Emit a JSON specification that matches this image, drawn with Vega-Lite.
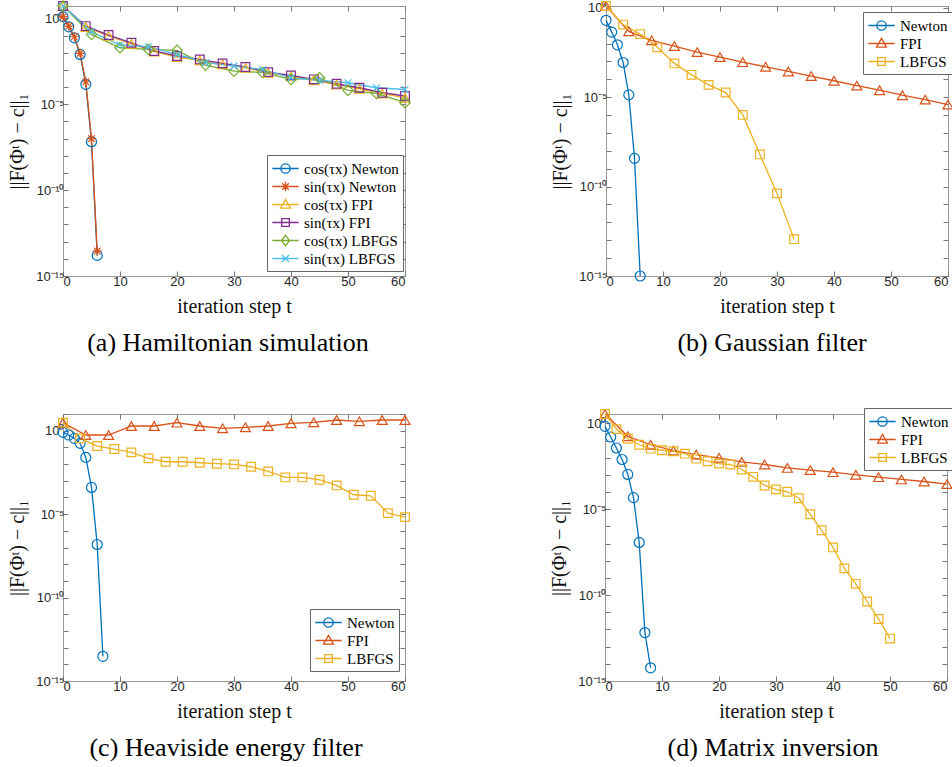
{
"$schema": "https://vega.github.io/schema/vega-lite/v6.json",
"background": "white",
"padding": {"left": 7, "top": -3, "right": 0, "bottom": 0},
"datasets": {
"a": [
{"series":"cos(τx) Newton","t":0,"v":1.26},{"series":"cos(τx) Newton","t":1,"v":0.324},{"series":"cos(τx) Newton","t":2,"v":0.0741},{"series":"cos(τx) Newton","t":3,"v":0.00794},{"series":"cos(τx) Newton","t":4,"v":1.45e-4},{"series":"cos(τx) Newton","t":5,"v":6.61e-8},{"series":"cos(τx) Newton","t":6,"v":1.58e-14},
{"series":"sin(τx) Newton","t":0,"v":1.26},{"series":"sin(τx) Newton","t":1,"v":0.355},{"series":"sin(τx) Newton","t":2,"v":0.0851},{"series":"sin(τx) Newton","t":3,"v":0.00912},{"series":"sin(τx) Newton","t":4,"v":2.04e-4},{"series":"sin(τx) Newton","t":5,"v":1e-7},{"series":"sin(τx) Newton","t":6,"v":2.82e-14},
{"series":"cos(τx) FPI","t":0,"v":5.25},{"series":"cos(τx) FPI","t":4,"v":0.316},{"series":"cos(τx) FPI","t":8,"v":0.0955},{"series":"cos(τx) FPI","t":12,"v":0.0331},{"series":"cos(τx) FPI","t":16,"v":0.0117},{"series":"cos(τx) FPI","t":20,"v":5.62e-3},{"series":"cos(τx) FPI","t":24,"v":3.55e-3},{"series":"cos(τx) FPI","t":28,"v":2.09e-3},{"series":"cos(τx) FPI","t":32,"v":1.32e-3},{"series":"cos(τx) FPI","t":36,"v":6.76e-4},{"series":"cos(τx) FPI","t":40,"v":4.17e-4},{"series":"cos(τx) FPI","t":44,"v":2.51e-4},{"series":"cos(τx) FPI","t":48,"v":1.38e-4},{"series":"cos(τx) FPI","t":52,"v":7.94e-5},{"series":"cos(τx) FPI","t":56,"v":4.17e-5},{"series":"cos(τx) FPI","t":60,"v":2.40e-5},
{"series":"sin(τx) FPI","t":0,"v":5.25},{"series":"sin(τx) FPI","t":4,"v":0.355},{"series":"sin(τx) FPI","t":8,"v":0.107},{"series":"sin(τx) FPI","t":12,"v":0.038},{"series":"sin(τx) FPI","t":16,"v":0.0126},{"series":"sin(τx) FPI","t":20,"v":6.46e-3},{"series":"sin(τx) FPI","t":24,"v":4.07e-3},{"series":"sin(τx) FPI","t":28,"v":2.40e-3},{"series":"sin(τx) FPI","t":32,"v":1.48e-3},{"series":"sin(τx) FPI","t":36,"v":7.41e-4},{"series":"sin(τx) FPI","t":40,"v":4.79e-4},{"series":"sin(τx) FPI","t":44,"v":2.82e-4},{"series":"sin(τx) FPI","t":48,"v":1.55e-4},{"series":"sin(τx) FPI","t":52,"v":9.12e-5},{"series":"sin(τx) FPI","t":56,"v":4.68e-5},{"series":"sin(τx) FPI","t":60,"v":3.02e-5},
{"series":"cos(τx) LBFGS","t":0,"v":5.25},{"series":"cos(τx) LBFGS","t":5,"v":0.117},{"series":"cos(τx) LBFGS","t":10,"v":0.0195},{"series":"cos(τx) LBFGS","t":15,"v":0.0155},{"series":"cos(τx) LBFGS","t":20,"v":0.0138},{"series":"cos(τx) LBFGS","t":25,"v":1.91e-3},{"series":"cos(τx) LBFGS","t":30,"v":8.51e-4},{"series":"cos(τx) LBFGS","t":35,"v":7.08e-4},{"series":"cos(τx) LBFGS","t":40,"v":2.82e-4},{"series":"cos(τx) LBFGS","t":45,"v":3.47e-4},{"series":"cos(τx) LBFGS","t":50,"v":6.46e-5},{"series":"cos(τx) LBFGS","t":55,"v":4.27e-5},{"series":"cos(τx) LBFGS","t":60,"v":1.23e-5},
{"series":"sin(τx) LBFGS","t":0,"v":5.25},{"series":"sin(τx) LBFGS","t":5,"v":0.166},{"series":"sin(τx) LBFGS","t":10,"v":0.0282},{"series":"sin(τx) LBFGS","t":15,"v":0.0224},{"series":"sin(τx) LBFGS","t":20,"v":7.94e-3},{"series":"sin(τx) LBFGS","t":25,"v":2.63e-3},{"series":"sin(τx) LBFGS","t":30,"v":1.66e-3},{"series":"sin(τx) LBFGS","t":35,"v":1.07e-3},{"series":"sin(τx) LBFGS","t":40,"v":3.47e-4},{"series":"sin(τx) LBFGS","t":45,"v":2.45e-4},{"series":"sin(τx) LBFGS","t":50,"v":1.78e-4},{"series":"sin(τx) LBFGS","t":55,"v":9.12e-5},{"series":"sin(τx) LBFGS","t":60,"v":7.24e-5}
],
"b": [
{"series":"Newton","t":0,"v":0.2},{"series":"Newton","t":1,"v":0.0437},{"series":"Newton","t":2,"v":8.51e-3},{"series":"Newton","t":3,"v":8.71e-4},{"series":"Newton","t":4,"v":1.35e-5},{"series":"Newton","t":5,"v":3.80e-9},{"series":"Newton","t":6,"v":1e-15},
{"series":"FPI","t":0,"v":1.26},{"series":"FPI","t":4,"v":0.0479},{"series":"FPI","t":8,"v":0.0151},{"series":"FPI","t":12,"v":7.24e-3},{"series":"FPI","t":16,"v":3.31e-3},{"series":"FPI","t":20,"v":1.74e-3},{"series":"FPI","t":24,"v":9.12e-4},{"series":"FPI","t":28,"v":5.01e-4},{"series":"FPI","t":32,"v":2.75e-4},{"series":"FPI","t":36,"v":1.51e-4},{"series":"FPI","t":40,"v":8.32e-5},{"series":"FPI","t":44,"v":4.47e-5},{"series":"FPI","t":48,"v":2.45e-5},{"series":"FPI","t":52,"v":1.29e-5},{"series":"FPI","t":56,"v":7.41e-6},{"series":"FPI","t":60,"v":3.89e-6},
{"series":"LBFGS","t":0,"v":1.26},{"series":"LBFGS","t":3,"v":0.115},{"series":"LBFGS","t":6,"v":0.0339},{"series":"LBFGS","t":9,"v":6.17e-3},{"series":"LBFGS","t":12,"v":7.76e-4},{"series":"LBFGS","t":15,"v":1.78e-4},{"series":"LBFGS","t":18,"v":4.90e-5},{"series":"LBFGS","t":21,"v":1.82e-5},{"series":"LBFGS","t":24,"v":1.02e-6},{"series":"LBFGS","t":27,"v":6.31e-9},{"series":"LBFGS","t":30,"v":4.17e-11},{"series":"LBFGS","t":33,"v":1.15e-13}
],
"c": [
{"series":"Newton","t":0,"v":0.794},{"series":"Newton","t":1,"v":0.55},{"series":"Newton","t":2,"v":0.347},{"series":"Newton","t":3,"v":0.174},{"series":"Newton","t":4,"v":0.0251},{"series":"Newton","t":5,"v":3.98e-4},{"series":"Newton","t":6,"v":1.51e-7},{"series":"Newton","t":7,"v":3.02e-14},
{"series":"FPI","t":0,"v":3.02},{"series":"FPI","t":4,"v":0.55},{"series":"FPI","t":8,"v":0.55},{"series":"FPI","t":12,"v":1.91},{"series":"FPI","t":16,"v":1.91},{"series":"FPI","t":20,"v":3.02},{"series":"FPI","t":24,"v":1.91},{"series":"FPI","t":28,"v":1.38},{"series":"FPI","t":32,"v":1.58},{"series":"FPI","t":36,"v":1.91},{"series":"FPI","t":40,"v":2.75},{"series":"FPI","t":44,"v":3.16},{"series":"FPI","t":48,"v":4.37},{"series":"FPI","t":52,"v":3.63},{"series":"FPI","t":56,"v":4.37},{"series":"FPI","t":60,"v":4.37},
{"series":"LBFGS","t":0,"v":3.02},{"series":"LBFGS","t":3,"v":0.347},{"series":"LBFGS","t":6,"v":0.12},{"series":"LBFGS","t":9,"v":0.0794},{"series":"LBFGS","t":12,"v":0.0501},{"series":"LBFGS","t":15,"v":0.0219},{"series":"LBFGS","t":18,"v":0.0138},{"series":"LBFGS","t":21,"v":0.0138},{"series":"LBFGS","t":24,"v":0.012},{"series":"LBFGS","t":27,"v":0.0105},{"series":"LBFGS","t":30,"v":9.55e-3},{"series":"LBFGS","t":33,"v":6.92e-3},{"series":"LBFGS","t":36,"v":3.63e-3},{"series":"LBFGS","t":39,"v":1.58e-3},{"series":"LBFGS","t":42,"v":1.58e-3},{"series":"LBFGS","t":45,"v":1.15e-3},{"series":"LBFGS","t":48,"v":5.25e-4},{"series":"LBFGS","t":51,"v":1.45e-4},{"series":"LBFGS","t":54,"v":1.26e-4},{"series":"LBFGS","t":57,"v":1.15e-5},{"series":"LBFGS","t":60,"v":6.61e-6}
],
"d": [
{"series":"Newton","t":0,"v":0.676},{"series":"Newton","t":1,"v":0.162},{"series":"Newton","t":2,"v":0.0372},{"series":"Newton","t":3,"v":7.94e-3},{"series":"Newton","t":4,"v":1.07e-3},{"series":"Newton","t":5,"v":4.79e-5},{"series":"Newton","t":6,"v":1.17e-7},{"series":"Newton","t":7,"v":6.61e-13},{"series":"Newton","t":8,"v":5.89e-15},
{"series":"FPI","t":0,"v":3.55},{"series":"FPI","t":4,"v":0.178},{"series":"FPI","t":8,"v":0.0575},{"series":"FPI","t":12,"v":0.0263},{"series":"FPI","t":16,"v":0.0155},{"series":"FPI","t":20,"v":0.01},{"series":"FPI","t":24,"v":5.75e-3},{"series":"FPI","t":28,"v":4.07e-3},{"series":"FPI","t":32,"v":2.57e-3},{"series":"FPI","t":36,"v":1.91e-3},{"series":"FPI","t":40,"v":1.45e-3},{"series":"FPI","t":44,"v":1.02e-3},{"series":"FPI","t":48,"v":7.41e-4},{"series":"FPI","t":52,"v":5.50e-4},{"series":"FPI","t":56,"v":4.17e-4},{"series":"FPI","t":60,"v":2.95e-4},
{"series":"LBFGS","t":0,"v":3.55},{"series":"LBFGS","t":2,"v":0.468},{"series":"LBFGS","t":4,"v":0.129},{"series":"LBFGS","t":6,"v":0.0575},{"series":"LBFGS","t":8,"v":0.0339},{"series":"LBFGS","t":10,"v":0.0275},{"series":"LBFGS","t":12,"v":0.024},{"series":"LBFGS","t":14,"v":0.0174},{"series":"LBFGS","t":16,"v":8.91e-3},{"series":"LBFGS","t":18,"v":6.31e-3},{"series":"LBFGS","t":20,"v":4.57e-3},{"series":"LBFGS","t":22,"v":4.07e-3},{"series":"LBFGS","t":24,"v":2.09e-3},{"series":"LBFGS","t":26,"v":7.76e-4},{"series":"LBFGS","t":28,"v":2.45e-4},{"series":"LBFGS","t":30,"v":1.45e-4},{"series":"LBFGS","t":32,"v":1.05e-4},{"series":"LBFGS","t":34,"v":4.37e-5},{"series":"LBFGS","t":36,"v":5.13e-6},{"series":"LBFGS","t":38,"v":6.03e-7},{"series":"LBFGS","t":40,"v":6.03e-8},{"series":"LBFGS","t":42,"v":3.63e-9},{"series":"LBFGS","t":44,"v":4.57e-10},{"series":"LBFGS","t":46,"v":4.27e-11},{"series":"LBFGS","t":48,"v":4.07e-12},{"series":"LBFGS","t":50,"v":2.95e-13}
]
},
"spacing": 49,
"resolve": {"scale": {"color": "independent"}, "legend": {"color": "independent"}},
"vconcat": [
{"hconcat": [
{"width": 342, "height": 270, "data": {"name": "a"},
 "title": {"text": "(a) Hamiltonian simulation", "dx": -6},
 "layer": [
  {"mark": {"type": "line", "strokeWidth": 1.3, "clip": false},
   "encoding": {
    "x": {"field": "t", "type": "quantitative", "scale": {"domain": [0, 60], "nice": false, "zero": false}, "axis": {"orient": "bottom", "values": [0,10,20,30,40,50,60], "title": "iteration step t"}},
    "y": {"field": "v", "type": "quantitative", "scale": {"type": "log", "domain": [1e-15, 5.25], "nice": false}, "axis": {"orient": "left", "values": [1e-15,1e-14,1e-13,1e-12,1e-11,1e-10,1e-9,1e-8,1e-7,1e-6,1e-5,1e-4,1e-3,1e-2,1e-1,1], "labelExpr": "round(log(datum.value)/LN10) == 0 ? '10⁰' : round(log(datum.value)/LN10) == -5 ? '10⁻⁵' : round(log(datum.value)/LN10) == -10 ? '10⁻¹⁰' : round(log(datum.value)/LN10) == -15 ? '10⁻¹⁵' : ''", "title": "||F(Φᵗ) − c||₁"}},
    "color": {"field": "series", "type": "nominal", "scale": {"domain": ["cos(τx) Newton","sin(τx) Newton","cos(τx) FPI","sin(τx) FPI","cos(τx) LBFGS","sin(τx) LBFGS"], "range": ["#0072BD","#D95319","#EDB120","#7E2F8E","#77AC30","#4DBEEE"]},
     "legend": {"orient": "none", "legendX": 204, "legendY": 149,
      "encode": {"symbols": {"update": {"shape": {"signal": "['M-1.55,0L1.55,0M0.55,0A0.55,0.55,0,1,1,-0.55,0A0.55,0.55,0,1,1,0.55,0','M-1.55,0L1.55,0M0,-0.55L0,0.55M-0.55,0L0.55,0M-0.39,-0.39L0.39,0.39M-0.39,0.39L0.39,-0.39','M-1.55,0L1.55,0M0,-0.6L0.58,0.42L-0.58,0.42Z','M-1.55,0L1.55,0M-0.45,-0.45L0.45,-0.45L0.45,0.45L-0.45,0.45Z','M-1.55,0L1.55,0M0,-0.6L0.48,0L0,0.6L-0.48,0Z','M-1.55,0L1.55,0M-0.42,-0.42L0.42,0.42M-0.42,0.42L0.42,-0.42'][datum.index]"}, "size": {"value": 289}, "fill": {"value": "transparent"}, "strokeWidth": {"value": 1.3}, "opacity": {"value": 1}}}}}}
   }},
  {"transform": [{"filter": "datum.series == 'cos(τx) Newton'"}],
   "mark": {"type": "point", "shape": "circle", "filled": false, "size": 100, "strokeWidth": 1.2, "opacity": 1, "clip": false},
   "encoding": {
    "x": {"field": "t", "type": "quantitative", "axis": {"orient": "top", "values": [0,10,20,30,40,50,60], "labels": false, "title": null}},
    "y": {"field": "v", "type": "quantitative", "axis": {"orient": "right", "values": [1e-15,1e-14,1e-13,1e-12,1e-11,1e-10,1e-9,1e-8,1e-7,1e-6,1e-5,1e-4,1e-3,1e-2,1e-1,1], "labels": false, "title": null}},
    "color": {"field": "series", "type": "nominal"}}},
  {"transform": [{"filter": "datum.series == 'sin(τx) Newton'"}],
   "mark": {"type": "point", "shape": "M0,-1L0,1M-1,0L1,0M-0.7,-0.7L0.7,0.7M-0.7,0.7L0.7,-0.7", "filled": false, "size": 90, "strokeWidth": 1.2, "opacity": 1, "clip": false},
   "encoding": {"x": {"field": "t", "type": "quantitative", "axis": null}, "y": {"field": "v", "type": "quantitative", "axis": null}, "color": {"field": "series", "type": "nominal"}}},
  {"transform": [{"filter": "datum.series == 'cos(τx) FPI'"}],
   "mark": {"type": "point", "shape": "triangle-up", "filled": false, "size": 100, "strokeWidth": 1.2, "opacity": 1, "clip": false},
   "encoding": {"x": {"field": "t", "type": "quantitative", "axis": null}, "y": {"field": "v", "type": "quantitative", "axis": null}, "color": {"field": "series", "type": "nominal"}}},
  {"transform": [{"filter": "datum.series == 'sin(τx) FPI'"}],
   "mark": {"type": "point", "shape": "square", "filled": false, "size": 75, "strokeWidth": 1.2, "opacity": 1, "clip": false},
   "encoding": {"x": {"field": "t", "type": "quantitative", "axis": null}, "y": {"field": "v", "type": "quantitative", "axis": null}, "color": {"field": "series", "type": "nominal"}}},
  {"transform": [{"filter": "datum.series == 'cos(τx) LBFGS'"}],
   "mark": {"type": "point", "shape": "diamond", "filled": false, "size": 110, "strokeWidth": 1.2, "opacity": 1, "clip": false},
   "encoding": {"x": {"field": "t", "type": "quantitative", "axis": null}, "y": {"field": "v", "type": "quantitative", "axis": null}, "color": {"field": "series", "type": "nominal"}}},
  {"transform": [{"filter": "datum.series == 'sin(τx) LBFGS'"}],
   "mark": {"type": "point", "shape": "M-0.7,-0.7L0.7,0.7M-0.7,0.7L0.7,-0.7", "filled": false, "size": 90, "strokeWidth": 1.2, "opacity": 1, "clip": false},
   "encoding": {"x": {"field": "t", "type": "quantitative", "axis": null}, "y": {"field": "v", "type": "quantitative", "axis": null}, "color": {"field": "series", "type": "nominal"}}}
 ],
 "resolve": {"axis": {"x": "independent", "y": "independent"}}
},
{"width": 342, "height": 270, "data": {"name": "b"},
 "title": {"text": "(b) Gaussian filter", "dx": -5},
 "layer": [
  {"mark": {"type": "line", "strokeWidth": 1.3, "clip": false},
   "encoding": {
    "x": {"field": "t", "type": "quantitative", "scale": {"domain": [0, 60], "nice": false, "zero": false}, "axis": {"orient": "bottom", "values": [0,10,20,30,40,50,60], "title": "iteration step t"}},
    "y": {"field": "v", "type": "quantitative", "scale": {"type": "log", "domain": [1e-15, 1.26], "nice": false}, "axis": {"orient": "left", "values": [1e-15,1e-14,1e-13,1e-12,1e-11,1e-10,1e-9,1e-8,1e-7,1e-6,1e-5,1e-4,1e-3,1e-2,1e-1,1], "labelExpr": "round(log(datum.value)/LN10) == 0 ? '10⁰' : round(log(datum.value)/LN10) == -5 ? '10⁻⁵' : round(log(datum.value)/LN10) == -10 ? '10⁻¹⁰' : round(log(datum.value)/LN10) == -15 ? '10⁻¹⁵' : ''", "title": "||F(Φᵗ) − c||₁"}},
    "color": {"field": "series", "type": "nominal", "scale": {"domain": ["Newton","FPI","LBFGS"], "range": ["#0072BD","#D95319","#EDB120"]},
     "legend": {"orient": "none", "legendX": 257, "legendY": 6,
      "encode": {"symbols": {"update": {"shape": {"signal": "['M-1.55,0L1.55,0M0.55,0A0.55,0.55,0,1,1,-0.55,0A0.55,0.55,0,1,1,0.55,0','M-1.55,0L1.55,0M0,-0.6L0.58,0.42L-0.58,0.42Z','M-1.55,0L1.55,0M-0.45,-0.45L0.45,-0.45L0.45,0.45L-0.45,0.45Z'][datum.index]"}, "size": {"value": 289}, "fill": {"value": "transparent"}, "strokeWidth": {"value": 1.3}, "opacity": {"value": 1}}}}}}
   }},
  {"transform": [{"filter": "datum.series == 'Newton'"}],
   "mark": {"type": "point", "shape": "circle", "filled": false, "size": 100, "strokeWidth": 1.2, "opacity": 1, "clip": false},
   "encoding": {
    "x": {"field": "t", "type": "quantitative", "axis": {"orient": "top", "values": [0,10,20,30,40,50,60], "labels": false, "title": null}},
    "y": {"field": "v", "type": "quantitative", "axis": {"orient": "right", "values": [1e-15,1e-14,1e-13,1e-12,1e-11,1e-10,1e-9,1e-8,1e-7,1e-6,1e-5,1e-4,1e-3,1e-2,1e-1,1], "labels": false, "title": null}},
    "color": {"field": "series", "type": "nominal"}}},
  {"transform": [{"filter": "datum.series == 'FPI'"}],
   "mark": {"type": "point", "shape": "triangle-up", "filled": false, "size": 100, "strokeWidth": 1.2, "opacity": 1, "clip": false},
   "encoding": {"x": {"field": "t", "type": "quantitative", "axis": null}, "y": {"field": "v", "type": "quantitative", "axis": null}, "color": {"field": "series", "type": "nominal"}}},
  {"transform": [{"filter": "datum.series == 'LBFGS'"}],
   "mark": {"type": "point", "shape": "square", "filled": false, "size": 75, "strokeWidth": 1.2, "opacity": 1, "clip": false},
   "encoding": {"x": {"field": "t", "type": "quantitative", "axis": null}, "y": {"field": "v", "type": "quantitative", "axis": null}, "color": {"field": "series", "type": "nominal"}}}
 ],
 "resolve": {"axis": {"x": "independent", "y": "independent"}}
}
], "spacing": 136, "resolve": {"scale": {"color": "independent"}, "legend": {"color": "independent"}}},
{"hconcat": [
{"width": 342, "height": 267, "data": {"name": "c"},
 "title": {"text": "(c) Heaviside energy filter", "dx": -8},
 "layer": [
  {"mark": {"type": "line", "strokeWidth": 1.3, "clip": false},
   "encoding": {
    "x": {"field": "t", "type": "quantitative", "scale": {"domain": [0, 60], "nice": false, "zero": false}, "axis": {"orient": "bottom", "values": [0,10,20,30,40,50,60], "title": "iteration step t"}},
    "y": {"field": "v", "type": "quantitative", "scale": {"type": "log", "domain": [1e-15, 10], "nice": false}, "axis": {"orient": "left", "values": [1e-15,1e-14,1e-13,1e-12,1e-11,1e-10,1e-9,1e-8,1e-7,1e-6,1e-5,1e-4,1e-3,1e-2,1e-1,1,10], "labelExpr": "round(log(datum.value)/LN10) == 0 ? '10⁰' : round(log(datum.value)/LN10) == -5 ? '10⁻⁵' : round(log(datum.value)/LN10) == -10 ? '10⁻¹⁰' : round(log(datum.value)/LN10) == -15 ? '10⁻¹⁵' : ''", "title": "||F(Φᵗ) − c||₁"}},
    "color": {"field": "series", "type": "nominal", "scale": {"domain": ["Newton","FPI","LBFGS"], "range": ["#0072BD","#D95319","#EDB120"]},
     "legend": {"orient": "none", "legendX": 247, "legendY": 195,
      "encode": {"symbols": {"update": {"shape": {"signal": "['M-1.55,0L1.55,0M0.55,0A0.55,0.55,0,1,1,-0.55,0A0.55,0.55,0,1,1,0.55,0','M-1.55,0L1.55,0M0,-0.6L0.58,0.42L-0.58,0.42Z','M-1.55,0L1.55,0M-0.45,-0.45L0.45,-0.45L0.45,0.45L-0.45,0.45Z'][datum.index]"}, "size": {"value": 289}, "fill": {"value": "transparent"}, "strokeWidth": {"value": 1.3}, "opacity": {"value": 1}}}}}}
   }},
  {"transform": [{"filter": "datum.series == 'Newton'"}],
   "mark": {"type": "point", "shape": "circle", "filled": false, "size": 100, "strokeWidth": 1.2, "opacity": 1, "clip": false},
   "encoding": {
    "x": {"field": "t", "type": "quantitative", "axis": {"orient": "top", "values": [0,10,20,30,40,50,60], "labels": false, "title": null}},
    "y": {"field": "v", "type": "quantitative", "axis": {"orient": "right", "values": [1e-15,1e-14,1e-13,1e-12,1e-11,1e-10,1e-9,1e-8,1e-7,1e-6,1e-5,1e-4,1e-3,1e-2,1e-1,1,10], "labels": false, "title": null}},
    "color": {"field": "series", "type": "nominal"}}},
  {"transform": [{"filter": "datum.series == 'FPI'"}],
   "mark": {"type": "point", "shape": "triangle-up", "filled": false, "size": 100, "strokeWidth": 1.2, "opacity": 1, "clip": false},
   "encoding": {"x": {"field": "t", "type": "quantitative", "axis": null}, "y": {"field": "v", "type": "quantitative", "axis": null}, "color": {"field": "series", "type": "nominal"}}},
  {"transform": [{"filter": "datum.series == 'LBFGS'"}],
   "mark": {"type": "point", "shape": "square", "filled": false, "size": 75, "strokeWidth": 1.2, "opacity": 1, "clip": false},
   "encoding": {"x": {"field": "t", "type": "quantitative", "axis": null}, "y": {"field": "v", "type": "quantitative", "axis": null}, "color": {"field": "series", "type": "nominal"}}}
 ],
 "resolve": {"axis": {"x": "independent", "y": "independent"}}
},
{"width": 342, "height": 267, "data": {"name": "d"},
 "title": {"text": "(d) Matrix inversion", "dx": -3},
 "layer": [
  {"mark": {"type": "line", "strokeWidth": 1.3, "clip": false},
   "encoding": {
    "x": {"field": "t", "type": "quantitative", "scale": {"domain": [0, 60], "nice": false, "zero": false}, "axis": {"orient": "bottom", "values": [0,10,20,30,40,50,60], "title": "iteration step t"}},
    "y": {"field": "v", "type": "quantitative", "scale": {"type": "log", "domain": [1e-15, 3.55], "nice": false}, "axis": {"orient": "left", "values": [1e-15,1e-14,1e-13,1e-12,1e-11,1e-10,1e-9,1e-8,1e-7,1e-6,1e-5,1e-4,1e-3,1e-2,1e-1,1], "labelExpr": "round(log(datum.value)/LN10) == 0 ? '10⁰' : round(log(datum.value)/LN10) == -5 ? '10⁻⁵' : round(log(datum.value)/LN10) == -10 ? '10⁻¹⁰' : round(log(datum.value)/LN10) == -15 ? '10⁻¹⁵' : ''", "title": "||F(Φᵗ) − c||₁"}},
    "color": {"field": "series", "type": "nominal", "scale": {"domain": ["Newton","FPI","LBFGS"], "range": ["#0072BD","#D95319","#EDB120"]},
     "legend": {"orient": "none", "legendX": 259, "legendY": -6,
      "encode": {"symbols": {"update": {"shape": {"signal": "['M-1.55,0L1.55,0M0.55,0A0.55,0.55,0,1,1,-0.55,0A0.55,0.55,0,1,1,0.55,0','M-1.55,0L1.55,0M0,-0.6L0.58,0.42L-0.58,0.42Z','M-1.55,0L1.55,0M-0.45,-0.45L0.45,-0.45L0.45,0.45L-0.45,0.45Z'][datum.index]"}, "size": {"value": 289}, "fill": {"value": "transparent"}, "strokeWidth": {"value": 1.3}, "opacity": {"value": 1}}}}}}
   }},
  {"transform": [{"filter": "datum.series == 'Newton'"}],
   "mark": {"type": "point", "shape": "circle", "filled": false, "size": 100, "strokeWidth": 1.2, "opacity": 1, "clip": false},
   "encoding": {
    "x": {"field": "t", "type": "quantitative", "axis": {"orient": "top", "values": [0,10,20,30,40,50,60], "labels": false, "title": null}},
    "y": {"field": "v", "type": "quantitative", "axis": {"orient": "right", "values": [1e-15,1e-14,1e-13,1e-12,1e-11,1e-10,1e-9,1e-8,1e-7,1e-6,1e-5,1e-4,1e-3,1e-2,1e-1,1], "labels": false, "title": null}},
    "color": {"field": "series", "type": "nominal"}}},
  {"transform": [{"filter": "datum.series == 'FPI'"}],
   "mark": {"type": "point", "shape": "triangle-up", "filled": false, "size": 100, "strokeWidth": 1.2, "opacity": 1, "clip": false},
   "encoding": {"x": {"field": "t", "type": "quantitative", "axis": null}, "y": {"field": "v", "type": "quantitative", "axis": null}, "color": {"field": "series", "type": "nominal"}}},
  {"transform": [{"filter": "datum.series == 'LBFGS'"}],
   "mark": {"type": "point", "shape": "square", "filled": false, "size": 75, "strokeWidth": 1.2, "opacity": 1, "clip": false},
   "encoding": {"x": {"field": "t", "type": "quantitative", "axis": null}, "y": {"field": "v", "type": "quantitative", "axis": null}, "color": {"field": "series", "type": "nominal"}}}
 ],
 "resolve": {"axis": {"x": "independent", "y": "independent"}}
}
], "spacing": 136, "resolve": {"scale": {"color": "independent"}, "legend": {"color": "independent"}}}
],
"config": {
 "view": {"stroke": "#999999", "strokeWidth": 1},
 "axis": {"grid": false, "domain": false, "tickColor": "#777777", "tickSize": -5, "tickWidth": 1, "labelFont": "Liberation Sans", "labelFontSize": 13, "labelColor": "#262626", "labelPadding": 4, "titleFont": "Liberation Serif", "titleFontSize": 20, "titleFontWeight": "normal", "titleColor": "#111111", "titlePadding": 8},
 "legend": {"title": null, "labelFont": "Liberation Serif", "labelFontSize": 15, "labelColor": "#000000", "strokeColor": "#666666", "fillColor": "#ffffff", "padding": 4, "rowPadding": 0, "symbolSize": 289, "symbolStrokeWidth": 1.3, "symbolOffset": 5, "labelOffset": 9, "cornerRadius": 0},
 "title": {"font": "Liberation Serif", "fontSize": 26, "fontWeight": "normal", "color": "#000000", "orient": "bottom", "anchor": "middle", "offset": 14}
}
}
